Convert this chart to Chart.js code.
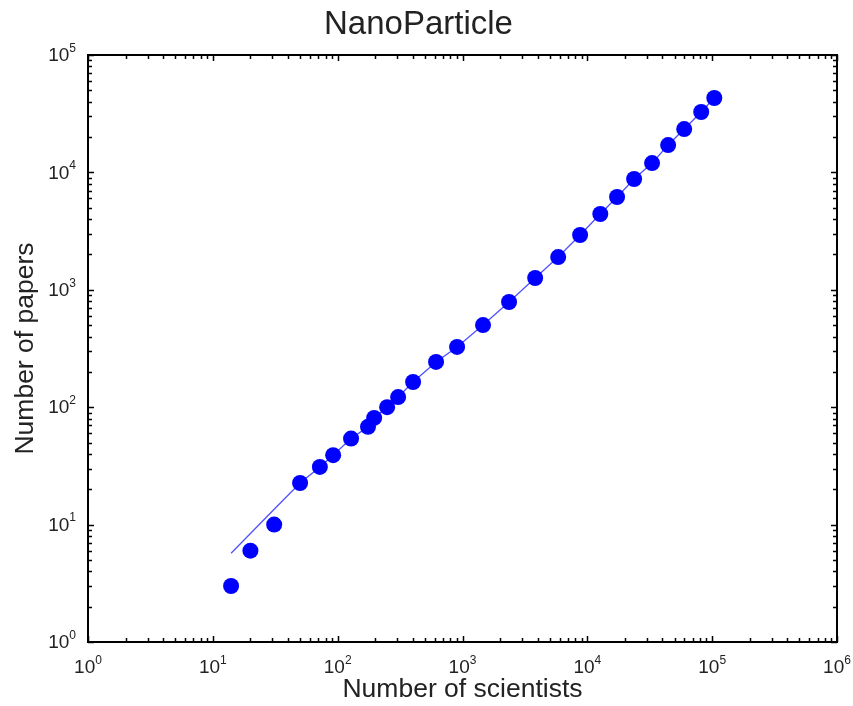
<!DOCTYPE html>
<html lang="en">
<head>
  <meta charset="UTF-8" />
  <title>NanoParticle</title>
  <script src="https://cdn.jsdelivr.net/npm/chart.js"></script>
  <style>
    body { margin: 0; background: #fff; }
    .wrap { width: 853px; height: 706px; position: relative; }
  </style>
</head>
<body>
  <div class="wrap"><canvas id="chart"></canvas></div>
  <script>
    // values
    const scientists = [14, 20, 31, 50, 72, 92, 128, 175, 196, 249, 305, 402, 614, 905, 1460,
      2360, 3820, 5840, 8750, 12700, 17300, 23700, 33000, 44400, 59700, 81700, 104000];
    const papers = [3, 6, 10, 22.6, 31, 39, 54, 68, 81, 100, 122, 164, 243, 326, 501,
      787, 1260, 1900, 2930, 4420, 6170, 8790, 12000, 17100, 23400, 32700, 43000];

    // model curve (thin line), read at the same x positions
    const fitX = scientists;
    const fitY = [5.7, 8.4, 13.5, 22.6, 31, 39, 54, 68, 81, 100, 122, 164, 243, 326, 501,
      787, 1260, 1900, 2930, 4420, 6170, 8790, 12000, 17100, 23400, 32700, 43000];

    // decade tick labels (exponents of 10)
    const xTickExp = [0, 1, 2, 3, 4, 5, 6];
    const yTickExp = [0, 1, 2, 3, 4, 5];

    const FONT = "'Liberation Sans', Arial, sans-serif";

    // box, inward ticks on all four sides, 10^n labels
    const framePlugin = {
      id: 'frame',
      afterDraw(chart) {
        const { ctx, chartArea: a, scales: { x, y } } = chart;
        ctx.save();
        ctx.strokeStyle = '#000';
        ctx.lineWidth = 1.5;

        ctx.beginPath();
        xTickExp.forEach((e, i) => {
          for (let m = 1; m < 10; m++) {
            if (i === xTickExp.length - 1 && m > 1) break;
            const px = Math.round(x.getPixelForValue(m * Math.pow(10, e))) + 0.5;
            const len = m === 1 ? 6 : 4;
            ctx.moveTo(px, a.bottom); ctx.lineTo(px, a.bottom - len);
            ctx.moveTo(px, a.top); ctx.lineTo(px, a.top + len);
          }
        });
        yTickExp.forEach((e, i) => {
          for (let m = 1; m < 10; m++) {
            if (i === yTickExp.length - 1 && m > 1) break;
            const py = Math.round(y.getPixelForValue(m * Math.pow(10, e))) + 0.5;
            const len = m === 1 ? 6 : 4;
            ctx.moveTo(a.left, py); ctx.lineTo(a.left + len, py);
            ctx.moveTo(a.right, py); ctx.lineTo(a.right - len, py);
          }
        });
        ctx.stroke();

        ctx.lineWidth = 2;
        ctx.strokeRect(a.left, a.top, a.right - a.left, a.bottom - a.top);

        ctx.fillStyle = '#222';
        ctx.textBaseline = 'middle';
        const big = '19px ' + FONT, small = '12px ' + FONT;
        const label = (e, cx, cy, align) => {
          ctx.font = big;
          const w1 = ctx.measureText('10').width;
          ctx.font = small;
          const w2 = ctx.measureText(String(e)).width;
          const left = align === 'center' ? cx - (w1 + w2) / 2 : cx - (w1 + w2);
          ctx.textAlign = 'left';
          ctx.font = big;
          ctx.fillText('10', left, cy);
          ctx.font = small;
          ctx.fillText(String(e), left + w1, cy - 7.5);
        };
        xTickExp.forEach(e => label(e, x.getPixelForValue(Math.pow(10, e)), a.bottom + 26, 'center'));
        yTickExp.forEach(e => label(e, a.left - 12, y.getPixelForValue(Math.pow(10, e)) + 1, 'right'));
        ctx.restore();
      }
    };

    new Chart(document.getElementById('chart'), {
      type: 'scatter',
      data: {
        datasets: [{
          data: scientists.map((v, i) => ({ x: v, y: papers[i] })),
          backgroundColor: '#0000ff',
          borderWidth: 0,
          pointRadius: 8,
          pointHoverRadius: 8,
          order: 1
        }, {
          type: 'line',
          data: fitX.map((v, i) => ({ x: v, y: fitY[i] })),
          borderColor: 'rgba(50, 50, 255, 0.85)',
          borderWidth: 1.3,
          pointRadius: 0,
          fill: false,
          order: 2
        }]
      },
      options: {
        responsive: true,
        maintainAspectRatio: false,
        animation: false,
        layout: { padding: { left: 0, right: 16, top: 0, bottom: 0 } },
        plugins: {
          legend: { display: false },
          tooltip: { enabled: false },
          title: {
            display: true,
            text: 'NanoParticle',
            color: '#222',
            font: { family: FONT, size: 33, weight: 'normal', lineHeight: 1.2 },
            padding: { top: 5, bottom: 10.4 }
          }
        },
        scales: {
          x: {
            type: 'logarithmic',
            min: 1,
            max: 1e6,
            grid: { display: false },
            border: { display: false },
            ticks: { display: false },
            title: {
              display: true,
              text: 'Number of scientists',
              color: '#222',
              font: { family: FONT, size: 26.5, lineHeight: 1.2 },
              padding: { top: 0, bottom: 0 }
            },
            afterFit(scale) { scale.height = 64; }
          },
          y: {
            type: 'logarithmic',
            min: 1,
            max: 1e5,
            grid: { display: false },
            border: { display: false },
            ticks: { display: false },
            title: {
              display: true,
              text: 'Number of papers',
              color: '#222',
              font: { family: FONT, size: 26.5, lineHeight: 1.2 },
              padding: { top: 10, bottom: 0 }
            },
            afterFit(scale) { scale.width = 88; }
          }
        }
      },
      plugins: [framePlugin]
    });
  </script>
</body>
</html>
